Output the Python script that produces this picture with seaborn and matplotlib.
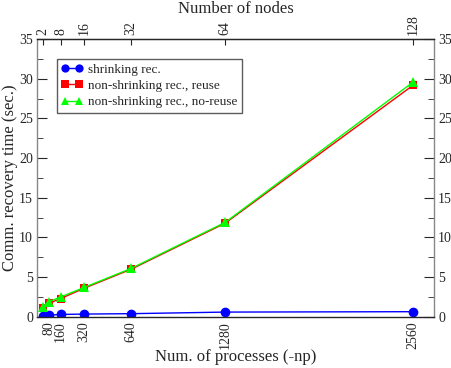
import seaborn as sns
import matplotlib.pyplot as plt
import pandas as pd

# data
procs = [40, 80, 160, 320, 640, 1280, 2560]
shrinking = [0.1, 0.2, 0.3, 0.35, 0.4, 0.6, 0.65]
nonshrink_reuse = [1.1, 1.7, 2.3, 3.6, 6.0, 11.8, 29.2]
nonshrink_noreuse = [1.3, 1.9, 2.5, 3.7, 6.1, 11.9, 29.6]
bottom_ticks = [80, 160, 320, 640, 1280, 2560]
top_ticks = [40, 160, 320, 640, 1280, 2560]
top_labels = ["2", "8", "16", "32", "64", "128"]

sns.set_style("ticks")
plt.rcParams["font.family"] = ["Liberation Serif", "DejaVu Serif"]

fig = plt.figure(figsize=(4.52, 3.68), dpi=100)
ax = fig.add_axes([0.082, 0.139, 0.878, 0.755])

series = [
    ("shrinking rec.", shrinking, "#0000ff", "o", 7),
    ("non-shrinking rec., reuse", nonshrink_reuse, "#ff0000", "s", 6),
    ("non-shrinking rec., no-reuse", nonshrink_noreuse, "#00ff00", "^", 7),
]
for name, vals, col, mk, ms in series:
    df = pd.DataFrame({"np": procs, "t": vals})
    sns.lineplot(data=df, x="np", y="t", ax=ax, color=col, marker=mk,
                 markersize=ms, markeredgewidth=0, linewidth=1.0, label=name)

ax.set_xlim(0, 2700)
ax.set_ylim(0, 35)
ax.set_xticks(bottom_ticks)
ax.set_xticklabels([str(v) for v in bottom_ticks], rotation=90, fontsize=10)
ax.set_yticks(range(0, 36, 5))
ax.set_yticks([v + 2.5 for v in range(0, 35, 5)], minor=True)
ax.tick_params(axis="y", which="both", direction="in", right=True,
               labelright=True, labelsize=10, pad=3)
ax.tick_params(axis="y", which="major", length=7)
ax.tick_params(axis="y", which="minor", length=4)
ax.tick_params(axis="x", direction="in", length=4, pad=3)
ax.set_xlabel("Num. of processes (-np)", fontsize=12, labelpad=0)
ax.set_ylabel("Comm. recovery time (sec.)", fontsize=12, labelpad=1)

for s in ax.spines.values():
    s.set_visible(True)
    s.set_linewidth(1.0)
ax.spines["left"].set_color("#888888")
ax.spines["right"].set_color("#888888")

top = ax.secondary_xaxis("top")
top.set_xticks(top_ticks)
top.set_xticklabels(top_labels, rotation=90, fontsize=10)
top.tick_params(direction="in", length=4, pad=3)
top.set_xlabel("Number of nodes", fontsize=12, labelpad=1)

leg = ax.legend(loc="upper left", bbox_to_anchor=(0.05, 0.928), numpoints=2,
                fontsize=9.5, frameon=True, fancybox=False, handlelength=1.6,
                borderpad=0.35, labelspacing=0.3, handletextpad=0.4,
                borderaxespad=0, markerscale=0.85)
leg.get_frame().set_edgecolor("#333333")
leg.get_frame().set_linewidth(1.0)

fig.savefig("out.png", dpi=100)
